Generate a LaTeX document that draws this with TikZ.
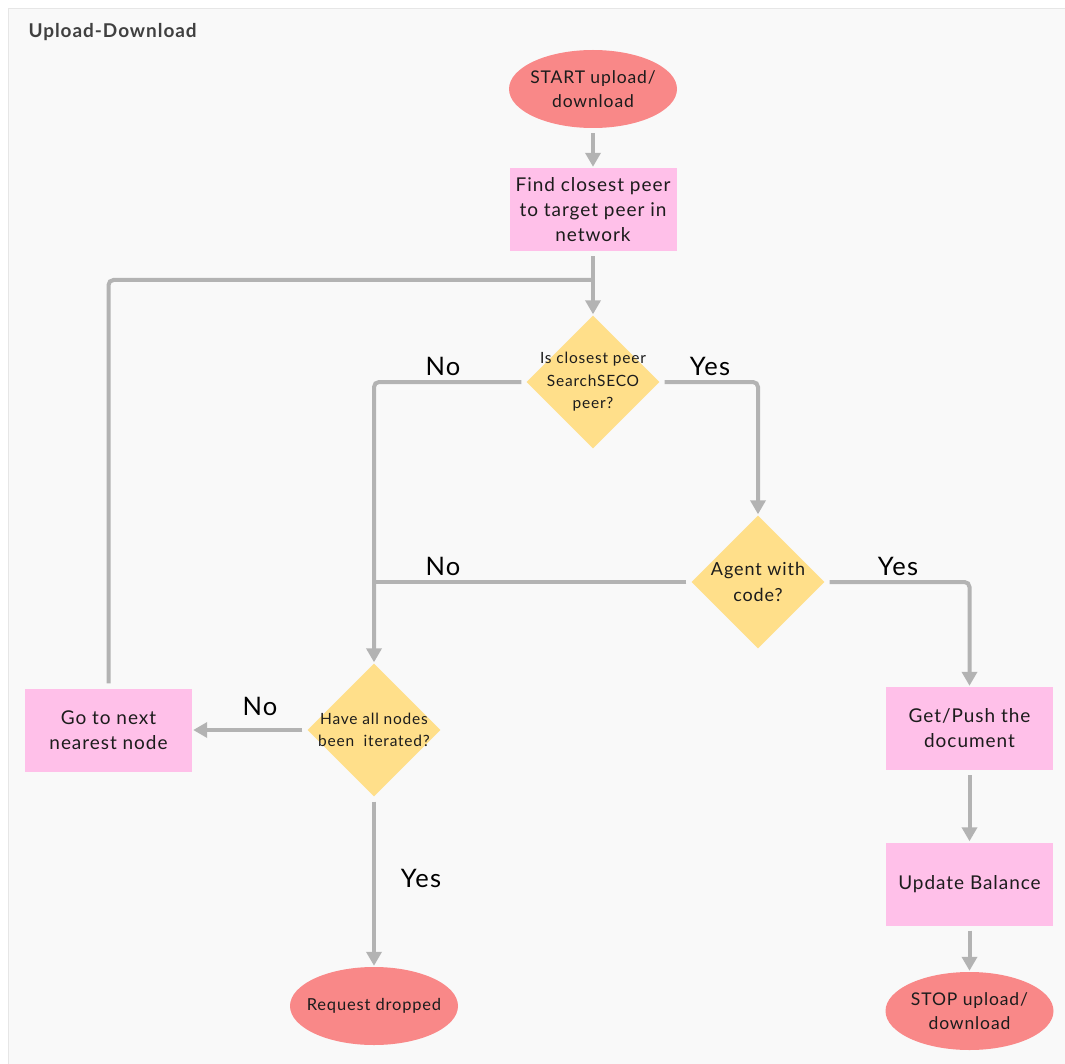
\documentclass[tikz,border=0pt]{standalone}
\usepackage{fontspec}
\setmainfont[LetterSpace=5]{Lato}
\usetikzlibrary{arrows.meta,shapes.geometric}

\definecolor{panel}{HTML}{F9F9F9}
\definecolor{panelline}{HTML}{E6E6E6}
\definecolor{titlegray}{HTML}{404040}
\definecolor{termred}{HTML}{F98888}
\definecolor{procpink}{HTML}{FFC0E9}
\definecolor{decyellow}{HTML}{FFDF8A}
\definecolor{wire}{HTML}{B3B3B3}
\definecolor{ink}{HTML}{1C1C1C}

\newcommand{\fs}[2]{\fontsize{#1}{#2}\selectfont}

\tikzset{
  terminal/.style={ellipse, fill=termred, minimum width=168pt, minimum height=78pt,
    inner sep=0pt},
  process/.style={rectangle, fill=procpink, minimum width=167pt, minimum height=83pt,
    inner sep=0pt, align=center, text=ink, font=\fs{19}{25}},
  decision/.style={diamond, fill=decyellow, minimum width=133pt, minimum height=133pt,
    inner sep=0pt},
  dtext/.style={align=center, text=ink, inner sep=0pt},
  wireline/.style={draw=wire, line width=4pt, rounded corners=5pt, shorten <=5pt},
  flow/.style={wireline, -{Triangle[width=15pt,length=14pt]}, shorten >=1pt},
  answer/.style={text=black, font=\fs{25.5}{28}, inner sep=0pt},
}

\begin{document}
\begin{tikzpicture}[x=1pt,y=-1pt]
  \useasboundingbox (0,0) rectangle (1065,1064);
  \fill[white] (0,0) rectangle (1065,1064);
  \draw[panelline, fill=panel, line width=1.5pt] (8.5,8.5) rectangle (1090,1090);
  \node[anchor=west, text=titlegray, font=\fs{19}{21}\bfseries] (title) at (25,32) {Upload-Download};

  % nodes (shapes first, their texts set on top)
  \node[terminal] (start) at (593,89) {};
  \node[dtext, font=\fs{17.5}{23.5}] (startt) at (start) {START upload/\\download};
  \node[process] (find) at (593,209.5) {Find closest peer\\to target peer in\\network};
  \node[decision] (d1) at (593,382) {};
  \node[dtext, font=\fs{15.5}{22.5}] (d1t) at (d1) {Is closest peer\\SearchSECO\\peer?};
  \node[decision] (d2) at (758,582) {};
  \node[dtext, font=\fs{18}{26.5}] (d2t) at (d2) {Agent with\\code?};
  \node[decision] (d3) at (374,730) {};
  \node[dtext, font=\fs{15.5}{22.5}] (d3t) at (d3) {Have all nodes\\been\ \ iterated?};
  \node[process] (go) at (108.5,730) {Go to next\\nearest node};
  \node[terminal] (drop) at (374,1006) {};
  \node[dtext, font=\fs{16.5}{20}] (dropt) at (drop) {Request dropped};
  \node[process] (get) at (969.5,728.5) {Get/Push the\\document};
  \node[process] (upd) at (969.5,884) {Update Balance};
  \node[terminal] (stop) at (969.5,1011) {};
  \node[dtext, font=\fs{17.5}{23.5}] (stopt) at (stop) {STOP upload/\\download};

  % junction points where lines merge
  \coordinate (jfind) at (593,280);
  \coordinate (jleft) at (374,582);

  % connectors
  \draw[flow] (start) -- (find);
  \draw[flow] (find) -- (d1);
  \draw[wireline] (go.north) |- (jfind);
  \draw[flow] (d1.west) -| (d3.north);
  \draw[flow] (d1.east) -| (d2.north);
  \draw[wireline] (d2.west) -- (jleft);
  \draw[flow] (d2.east) -| (get.north);
  \draw[flow] (d3.west) -- (go.east);
  \draw[flow] (d3.south) -- (drop.north);
  \draw[flow] (get) -- (upd);
  \draw[flow] (upd) -- (stop);

  % branch labels
  \node[answer] (l1) at (443,366) {No};
  \node[answer] (l2) at (710,366) {Yes};
  \node[answer] (l3) at (443,566) {No};
  \node[answer] (l4) at (898,566) {Yes};
  \node[answer] (l5) at (260,706) {No};
  \node[answer] (l6) at (421,878) {Yes};
\end{tikzpicture}
\end{document}
